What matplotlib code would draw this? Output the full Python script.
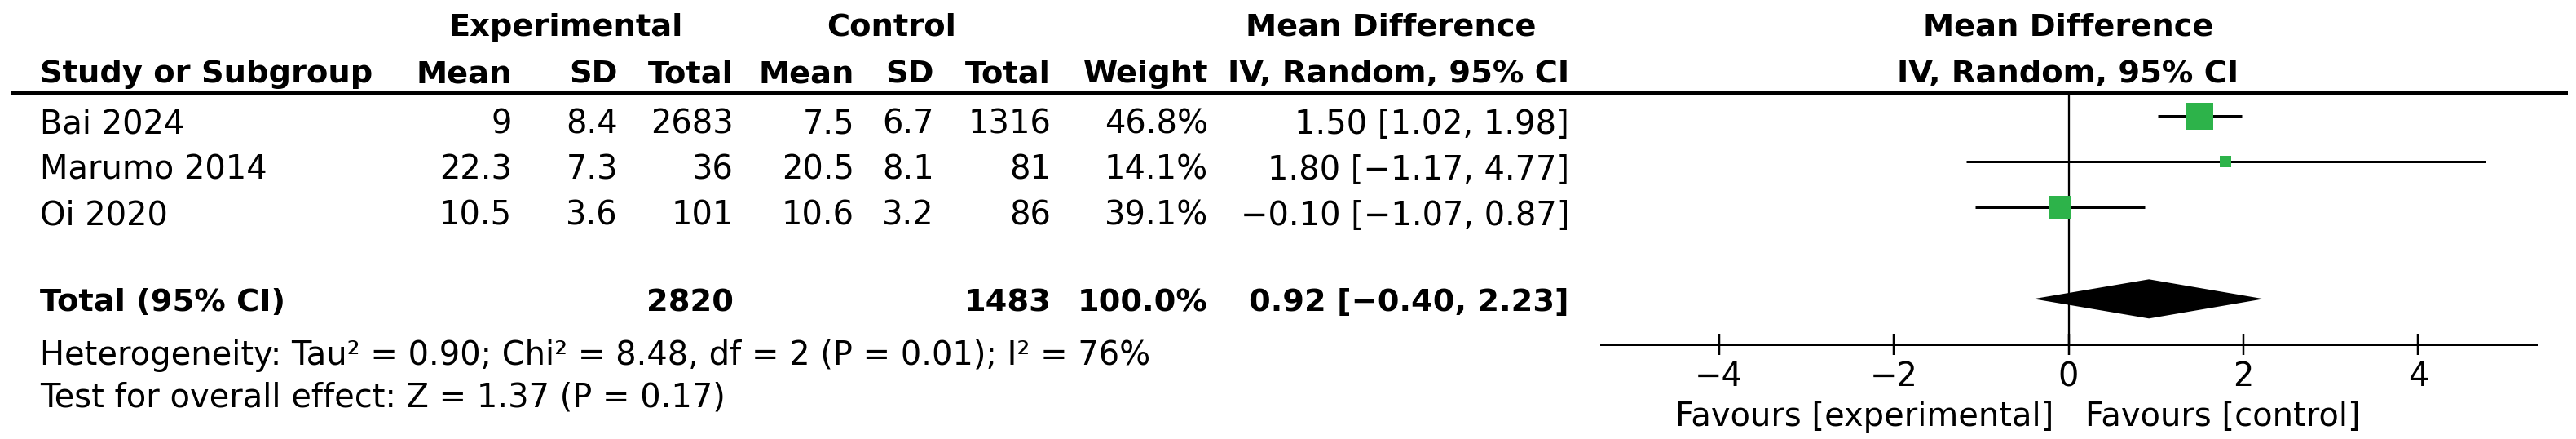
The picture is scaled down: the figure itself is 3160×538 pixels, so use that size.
import matplotlib
matplotlib.use("Agg")
import matplotlib.pyplot as plt

# ---------------- data ----------------
studies = ["Bai 2024", "Marumo 2014", "Oi 2020"]
exp_mean = [9, 22.3, 10.5]
exp_sd = [8.4, 7.3, 3.6]
exp_n = [2683, 36, 101]
ctl_mean = [7.5, 20.5, 10.6]
ctl_sd = [6.7, 8.1, 3.2]
ctl_n = [1316, 81, 86]
weights = [46.8, 14.1, 39.1]
md = [1.50, 1.80, -0.10]
ci_lo = [1.02, -1.17, -1.07]
ci_hi = [1.98, 4.77, 0.87]

total_exp_n = 2820
total_ctl_n = 1483
total_weight = 100.0
total_md = 0.92
total_lo = -0.40
total_hi = 2.23

heterogeneity = "Heterogeneity: Tau² = 0.90; Chi² = 8.48, df = 2 (P = 0.01); I² = 76%"
overall = "Test for overall effect: Z = 1.37 (P = 0.17)"
xticks = [-4, -2, 0, 2, 4]
fav_left = "Favours [experimental]"
fav_right = "Favours [control]"

# ---------------- style ----------------
W, H = 3160, 538
DPI = 100
FS = 28.8      # regular text (pt)
FSB = 27.6     # bold text (pt)
GREEN = "#2DB34A"
PX = 72.0 / DPI  # points per pixel

plt.rcParams["font.family"] = ["DejaVu Sans"]

fig = plt.figure(figsize=(W / DPI, H / DPI), dpi=DPI)
fig.patch.set_facecolor("white")

# table axes in pixel coordinates
tab = fig.add_axes([0, 0, 1, 1])
tab.set_xlim(0, W)
tab.set_ylim(H, 0)
tab.axis("off")


def fmt_num(v):
    return f"{v:g}"


def fmt_ci(m, lo, hi):
    s = f"{m:.2f} [{lo:.2f}, {hi:.2f}]"
    return s.replace("-", "\u2212")


# column right edges
x_study = 49
x_emean, x_esd, x_en = 628, 758, 900
x_cmean, x_csd, x_cn = 1048, 1146, 1289
x_w = 1482
x_ci = 1925

# headers
hy1, hy2 = 44, 101
bold = dict(fontsize=FSB, fontweight="bold", va="baseline")
tab.text(694, hy1, "Experimental", ha="center", **bold)
tab.text(1094, hy1, "Control", ha="center", **bold)
tab.text(1706, hy1, "Mean Difference", ha="center", **bold)
tab.text(2537, hy1, "Mean Difference", ha="center", **bold)

tab.text(x_study, hy2, "Study or Subgroup", ha="left", **bold)
for x, lab in [(x_emean, "Mean"), (x_esd, "SD"), (x_en, "Total"),
               (x_cmean, "Mean"), (x_csd, "SD"), (x_cn, "Total"),
               (x_w, "Weight"), (x_ci, "IV, Random, 95% CI")]:
    tab.text(x, hy2, lab, ha="right", **bold)
tab.text(2537, hy2, "IV, Random, 95% CI", ha="center", **bold)

# header rule
tab.plot([13, 3150], [114.3, 114.3], color="black", lw=4 * PX, solid_capstyle="butt")

# study rows
reg = dict(fontsize=FS, va="baseline")
for i, name in enumerate(studies):
    y = 164 + 56 * i
    tab.text(x_study, y, name, ha="left", **reg)
    tab.text(x_emean, y, fmt_num(exp_mean[i]), ha="right", **reg)
    tab.text(x_esd, y, fmt_num(exp_sd[i]), ha="right", **reg)
    tab.text(x_en, y, str(exp_n[i]), ha="right", **reg)
    tab.text(x_cmean, y, fmt_num(ctl_mean[i]), ha="right", **reg)
    tab.text(x_csd, y, fmt_num(ctl_sd[i]), ha="right", **reg)
    tab.text(x_cn, y, str(ctl_n[i]), ha="right", **reg)
    tab.text(x_w, y, f"{weights[i]:.1f}%", ha="right", **reg)
    tab.text(x_ci, y, fmt_ci(md[i], ci_lo[i], ci_hi[i]), ha="right", **reg)

# total row
ty = 381
tab.text(x_study, ty, "Total (95% CI)", ha="left", **bold)
tab.text(x_en, ty, str(total_exp_n), ha="right", **bold)
tab.text(x_cn, ty, str(total_ctl_n), ha="right", **bold)
tab.text(x_w, ty, f"{total_weight:.1f}%", ha="right", **bold)
tab.text(x_ci, ty, fmt_ci(total_md, total_lo, total_hi), ha="right", **bold)

# footnotes
tab.text(x_study, 447, heterogeneity, ha="left", **reg)
tab.text(x_study, 498, overall, ha="left", **reg)

# ---------------- forest axes ----------------
unit = 107.2
zero_px = 2537.5
xmin, xmax = -5.35, 5.35
left_px = zero_px + xmin * unit
right_px = zero_px + xmax * unit
top_px, bot_px = 114.3, 422.3
ax = fig.add_axes([left_px / W, 1 - bot_px / H, (right_px - left_px) / W, (bot_px - top_px) / H])
ax.set_xlim(xmin, xmax)
row_h = 56.0
ax.set_ylim((bot_px - 142.3) / row_h, (top_px - 142.3) / row_h)
ax.patch.set_alpha(0)
for s in ["top", "left", "right"]:
    ax.spines[s].set_visible(False)
ax.spines["bottom"].set_linewidth(3 * PX)
ax.set_yticks([])
ax.set_xticks(xticks)
ax.set_xticklabels([str(t).replace("-", "\u2212") for t in xticks])
ax.tick_params(axis="x", direction="inout", length=26 * PX, width=2.5 * PX,
               labelsize=FS, pad=5)

ax.axvline(0, color="black", lw=2.3 * PX, zorder=1)

for i in range(len(studies)):
    ax.plot([ci_lo[i], ci_hi[i]], [i, i], color="black", lw=3 * PX,
            solid_capstyle="butt", zorder=2)
    side_pt = 33 * (weights[i] / 46.8) ** 0.72 * PX
    ax.scatter([md[i]], [i], marker="s", s=side_pt ** 2, color=GREEN,
               linewidths=0, zorder=3)

# diamond
tot_row = 4
dh = 24 / row_h
ax.fill([total_lo, total_md, total_hi, total_md],
        [tot_row, tot_row - dh, tot_row, tot_row + dh],
        color="black", lw=0, zorder=3)

# favours labels
tab.text(zero_px - 18, 522, fav_left, ha="right", **reg)
tab.text(zero_px + 20, 522, fav_right, ha="left", **reg)

fig.savefig("out.png", dpi=DPI, facecolor="white")
